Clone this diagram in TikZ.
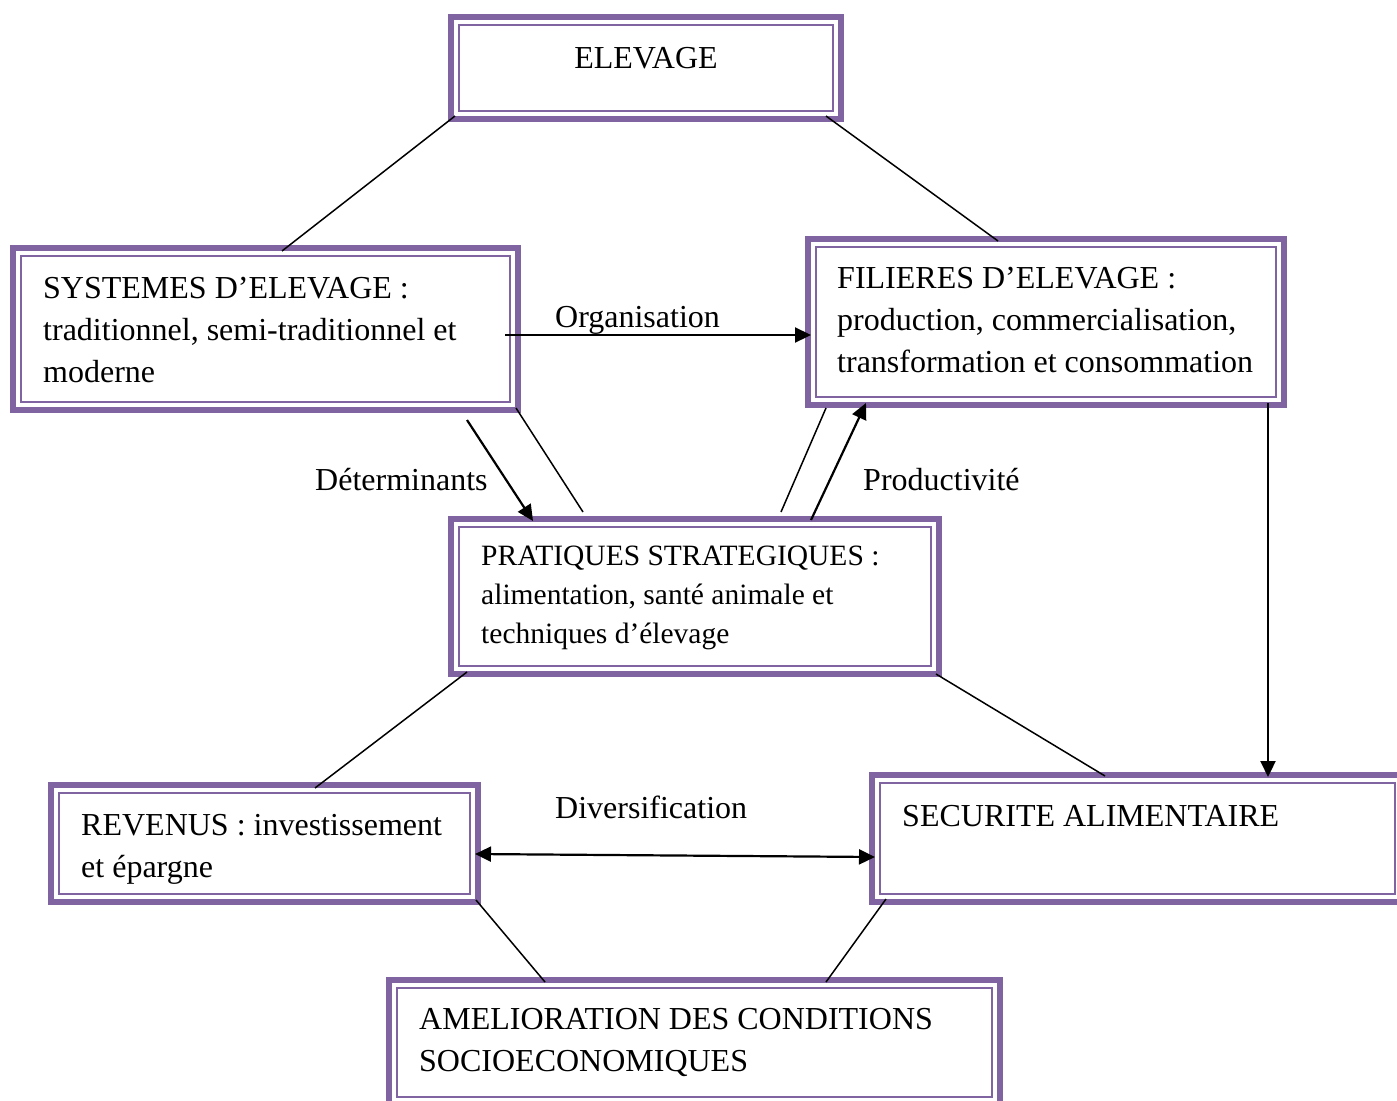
\documentclass[tikz,border=0pt]{standalone}
\usepackage{fontspec}
\setmainfont{Liberation Serif}
\usetikzlibrary{arrows.meta}
\definecolor{boxpurple}{RGB}{128,100,162}
\tikzset{
  box/.style={draw=boxpurple, line width=6pt, fill=white, inner sep=0pt,
    path picture={\draw[boxpurple, line width=2pt]
      ([xshift=8pt,yshift=-8pt]path picture bounding box.north west) rectangle
      ([xshift=-8pt,yshift=8pt]path picture bounding box.south east);}},
  txt/.style={inner sep=0pt, align=left, anchor=north west, font=\fontsize{32}{42}\selectfont},
  txtsmall/.style={inner sep=0pt, align=left, anchor=north west, font=\fontsize{29.5}{39}\selectfont},
  lbl/.style={inner sep=0pt, anchor=base west, font=\fontsize{32}{42}\selectfont},
  conn/.style={line width=1.5pt},
  arr/.style={line width=2.2pt, -{Triangle[length=16pt,width=15pt]}},
  darr/.style={line width=2.2pt, {Triangle[length=16pt,width=15pt]}-{Triangle[length=16pt,width=15pt]}}
}
\begin{document}
\begin{tikzpicture}[x=1pt,y=-1pt]
\useasboundingbox (0,0) rectangle (1397,1100);
% boxes
\node[box, minimum width=390pt, minimum height=102pt] (elev) at (646,68) {};
\node[box, minimum width=505pt, minimum height=162pt] (sys) at (265.5,329) {};
\node[box, minimum width=476pt, minimum height=166pt] (fil) at (1046,322) {};
\node[box, minimum width=488pt, minimum height=155pt] (prat) at (695,596.5) {};
\node[box, minimum width=427pt, minimum height=117pt] (rev) at (264.5,843.5) {};
\node[box, minimum width=531pt, minimum height=127pt] (sec) at (1137.5,838.5) {};
\node[box, minimum width=611pt, minimum height=125pt] (amel) at (694.5,1042.5) {};
% texts
\node[lbl, anchor=base] (elevT) at (646,68) {ELEVAGE};
\node[txt] (sysT) at (43,277.5) {SYSTEMES D’ELEVAGE :\\traditionnel, semi-traditionnel et\\moderne};
\node[txt] (filT) at (837,267.5) {FILIERES D’ELEVAGE :\\production, commercialisation,\\transformation et consommation};
\node[txtsmall] (pratT) at (481,545.5) {PRATIQUES STRATEGIQUES :\\alimentation, santé animale et\\techniques d’élevage};
\node[txt] (revT) at (81,814) {REVENUS : investissement\\et épargne};
\node[txt] (secT) at (902,805) {SECURITE ALIMENTAIRE};
\node[txt] (amelT) at (419,1008) {AMELIORATION DES CONDITIONS\\SOCIOECONOMIQUES};
% labels
\node[lbl] (orgL) at (555,327) {Organisation};
\node[lbl] (detL) at (315,490) {Déterminants};
\node[lbl] (proL) at (863,490) {Productivité};
\node[lbl] (divL) at (555,818) {Diversification};
% connectors
\draw[conn] ([shift={(7,-6)}]elev.south west) -- ([shift={(272,6)}]sys.north west);
\draw[conn] ([shift={(-18,-6)}]elev.south east) -- ([shift={(193,5)}]fil.north west);
\draw[arr] ([shift={(-16,6)}]sys.east) -- ([shift={(6,13)}]fil.west);
\draw[arr] ([shift={(457,7)}]sys.south west) -- ([shift={(85,5)}]prat.north west);
\draw[conn] ([shift={(-5,-5)}]sys.south east) -- ([shift={(135,-4)}]prat.north west);
\draw[conn] ([shift={(333,-4)}]prat.north west) -- ([shift={(21,0)}]fil.south west);
\draw[arr] ([shift={(363,4)}]prat.north west) -- ([shift={(61,-5)}]fil.south west);
\draw[arr] ([shift={(-19,-5)}]fil.south east) -- ([shift={(399,5)}]sec.north west);
\draw[conn] ([shift={(19,-5)}]prat.south west) -- ([shift={(267,6)}]rev.north west);
\draw[conn] ([shift={(-6,-3)}]prat.south east) -- ([shift={(236,4)}]sec.north west);
\draw[darr] ([shift={(-6,10.5)}]rev.east) -- ([shift={(6,18.5)}]sec.west);
\draw[conn] ([shift={(-5,-5)}]rev.south east) -- ([shift={(159,5)}]amel.north west);
\draw[conn] ([shift={(17,-6)}]sec.south west) -- ([shift={(440,5)}]amel.north west);
\end{tikzpicture}
\end{document}
